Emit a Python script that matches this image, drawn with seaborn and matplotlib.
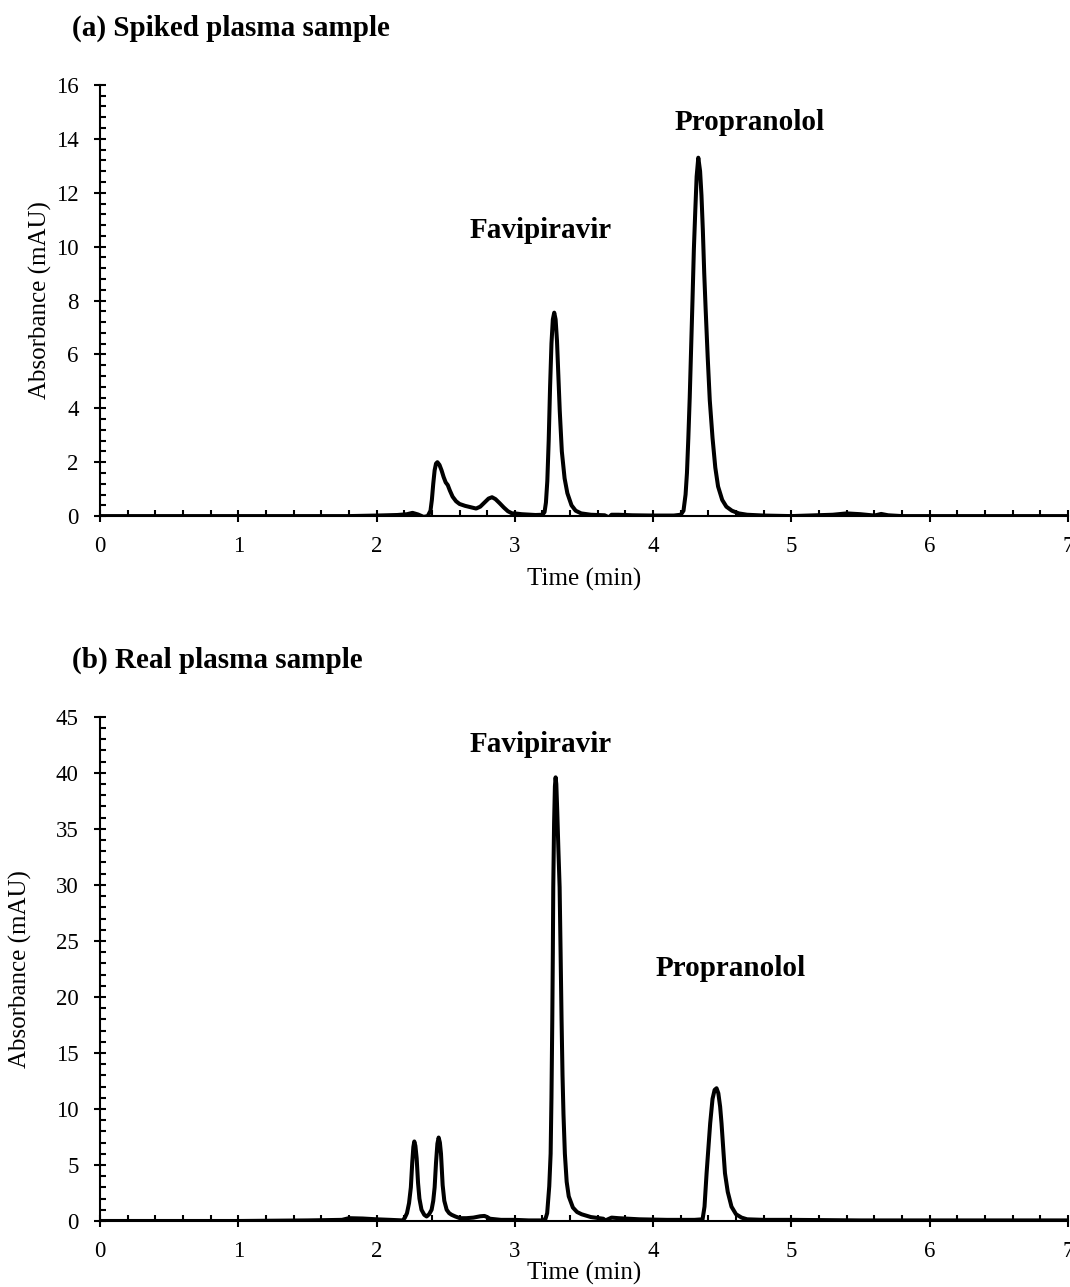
import pandas as pd
import matplotlib.pyplot as plt
import seaborn as sns
from matplotlib.ticker import MultipleLocator

# ---- data ----
time_a = [0.0, 1.0, 1.8, 2.0, 2.15, 2.22, 2.26, 2.30, 2.34, 2.37, 2.39, 2.40, 2.41, 2.42,
          2.43, 2.44, 2.455, 2.47, 2.485, 2.50, 2.515, 2.53, 2.55, 2.575, 2.60, 2.64, 2.68,
          2.72, 2.75, 2.78, 2.81, 2.835, 2.86, 2.89, 2.92, 2.95, 2.98, 3.0, 3.05, 3.15, 3.20,
          3.215, 3.225, 3.235, 3.245, 3.255, 3.265, 3.275, 3.285, 3.295, 3.305, 3.315, 3.325,
          3.34, 3.36, 3.38, 3.41, 3.44, 3.48, 3.55, 3.65, 3.68, 3.70, 3.75, 3.85, 4.0, 4.15,
          4.20, 4.22, 4.235, 4.245, 4.255, 4.265, 4.275, 4.285, 4.295, 4.305, 4.315, 4.327,
          4.34, 4.35, 4.36, 4.37, 4.38, 4.395, 4.41, 4.43, 4.45, 4.47, 4.50, 4.53, 4.57, 4.62,
          4.68, 4.8, 5.0, 5.3, 5.4, 5.5, 5.6, 5.65, 5.7, 5.8, 6.0, 7.0]
abs_a = [0.0, 0.0, 0.0, 0.02, 0.04, 0.07, 0.12, 0.06, -0.03, 0.0, 0.2, 0.6, 1.2, 1.7,
         1.95, 2.0, 1.9, 1.7, 1.45, 1.25, 1.15, 0.95, 0.72, 0.55, 0.45, 0.38, 0.33,
         0.28, 0.35, 0.5, 0.65, 0.7, 0.63, 0.48, 0.32, 0.18, 0.1, 0.1, 0.07, 0.04, 0.05,
         0.15, 0.5, 1.3, 2.8, 4.8, 6.4, 7.3, 7.55, 7.3, 6.5, 5.2, 3.9,
         2.4, 1.4, 0.85, 0.4, 0.2, 0.1, 0.05, 0.03, -0.05, 0.05, 0.05, 0.03, 0.02, 0.02,
         0.05, 0.2, 0.8, 1.6, 2.9, 4.4, 6.2, 8.0, 9.9, 11.3, 12.6, 13.3,
         12.8, 11.9, 10.6, 9.0, 7.7, 5.9, 4.3, 2.9, 1.8, 1.1, 0.6, 0.35, 0.2, 0.1,
         0.05, 0.02, 0.0, 0.05, 0.1, 0.07, 0.02, 0.08, 0.03, 0.0, 0.0, 0.0]

time_b = [0.0, 1.0, 1.5, 1.75, 1.8, 1.9, 2.0, 2.1, 2.19, 2.205, 2.22, 2.235, 2.248, 2.258,
          2.266, 2.273, 2.281, 2.29, 2.30, 2.31, 2.325, 2.345, 2.362, 2.38, 2.398, 2.41,
          2.42, 2.43, 2.44, 2.449, 2.458, 2.466, 2.478, 2.49, 2.507, 2.525, 2.543, 2.57,
          2.603, 2.65, 2.7, 2.75, 2.78, 2.80, 2.82, 2.9, 3.0, 3.1, 3.2, 3.222, 3.234, 3.249,
          3.259, 3.265, 3.268, 3.271, 3.275, 3.278, 3.284, 3.29, 3.295, 3.30, 3.307, 3.315,
          3.324, 3.331, 3.338, 3.345, 3.352, 3.362, 3.375, 3.39, 3.42, 3.45, 3.483, 3.55,
          3.64, 3.655, 3.70, 3.75, 3.9, 4.1, 4.3, 4.358, 4.372, 4.387, 4.40, 4.413, 4.43,
          4.445, 4.459, 4.472, 4.485, 4.495, 4.51, 4.52, 4.54, 4.567, 4.60, 4.64, 4.68,
          4.8, 5.0, 5.5, 6.0, 6.5, 7.0]
abs_b = [0.0, 0.0, 0.05, 0.1, 0.25, 0.22, 0.15, 0.1, 0.05, 0.3, 0.7, 1.6, 3.0, 5.2,
         6.6, 7.1, 6.7, 5.6, 3.4, 2.0, 1.0, 0.55, 0.4, 0.6, 1.0, 1.8,
         3.0, 5.2, 6.9, 7.45, 7.0, 6.0, 3.2, 1.8, 1.0, 0.7, 0.55, 0.4,
         0.25, 0.25, 0.3, 0.42, 0.45, 0.35, 0.2, 0.1, 0.1, 0.05, 0.05, 0.2, 0.7, 3.1,
         6.0, 11.0, 14.5, 18.0, 24.0, 29.8, 35.5, 38.8, 39.6, 39.0, 36.5, 33.2,
         29.8, 24.0, 18.0, 13.0, 9.5, 6.0, 3.5, 2.2, 1.2, 0.8, 0.6, 0.35,
         0.2, 0.05, 0.3, 0.25, 0.15, 0.1, 0.1, 0.15, 1.28, 4.26, 6.5, 8.72, 10.9,
         11.7, 11.85, 11.4, 10.2, 8.72, 6.0, 4.26, 2.6, 1.28, 0.6, 0.3, 0.15,
         0.1, 0.1, 0.05, 0.05, 0.05, 0.05]

titles = ["(a) Spiked plasma sample", "(b) Real plasma sample"]
peak_names = ["Favipiravir", "Propranolol"]
label_pos_a = [(3.19, 10.6), (4.70, 14.6)]
label_pos_b = [(3.19, 42.5), (4.56, 22.5)]

sns.set_style("white")
plt.rcParams['font.family'] = ['Liberation Serif', 'DejaVu Serif']
plt.rcParams['text.color'] = 'black'
plt.rcParams['axes.labelcolor'] = 'black'
plt.rcParams['xtick.color'] = 'black'
plt.rcParams['ytick.color'] = 'black'

fig = plt.figure(figsize=(10.7, 12.87), dpi=100)
ax_a = fig.add_axes([0.0935, 0.599, 0.9045, 0.335])
ax_b = fig.add_axes([0.0935, 0.0513, 0.9045, 0.3917])

panels = [
    (ax_a, time_a, abs_a, 16, 2, 0.4, label_pos_a, -0.0496),
    (ax_b, time_b, abs_b, 45, 5, 1, label_pos_b, -0.0702),
]

for ax, t, a, ymax, ymaj, ymin, lpos, ylab_x in panels:
    df = pd.DataFrame({"Time": t, "Abs": a})
    sns.lineplot(data=df, x="Time", y="Abs", ax=ax, color="black", lw=2.9,
                 estimator=None, sort=False)
    ax.set_xlim(0, 7)
    ax.set_ylim(0, ymax)
    ax.xaxis.set_major_locator(MultipleLocator(1))
    ax.xaxis.set_minor_locator(MultipleLocator(0.2))
    ax.yaxis.set_major_locator(MultipleLocator(ymaj))
    ax.yaxis.set_minor_locator(MultipleLocator(ymin))
    ax.tick_params(which="both", bottom=True, left=True, top=False, right=False)
    ax.tick_params(which="major", direction="inout", length=9, width=1.5,
                   labelsize=16.5, color="black", labelcolor="black")
    ax.tick_params(axis="x", which="major", pad=10)
    ax.tick_params(axis="y", which="major", pad=11)
    ax.tick_params(which="minor", direction="in", length=4.5, width=1.5, color="black")
    for s in ["top", "right"]:
        ax.spines[s].set_visible(False)
    for s in ["left", "bottom"]:
        ax.spines[s].set_linewidth(1.5)
        ax.spines[s].set_color("black")
    ax.set_xlabel("Time (min)", fontsize=18)
    ax.set_ylabel("Absorbance (mAU)", fontsize=18)
    ax.yaxis.set_label_coords(ylab_x, 0.5)
    for name, (x, y) in zip(peak_names, lpos):
        ax.text(x, y, name, ha="center", va="center", fontsize=21, fontweight="bold")

ax_a.xaxis.set_label_coords(0.5, -0.12)
ax_b.xaxis.set_label_coords(0.5, -0.081)

fig.text(0.0673, 0.978, titles[0], fontsize=21, fontweight="bold", va="center")
fig.text(0.0673, 0.487, titles[1], fontsize=21, fontweight="bold", va="center")

fig.savefig("out.png", dpi=100)
